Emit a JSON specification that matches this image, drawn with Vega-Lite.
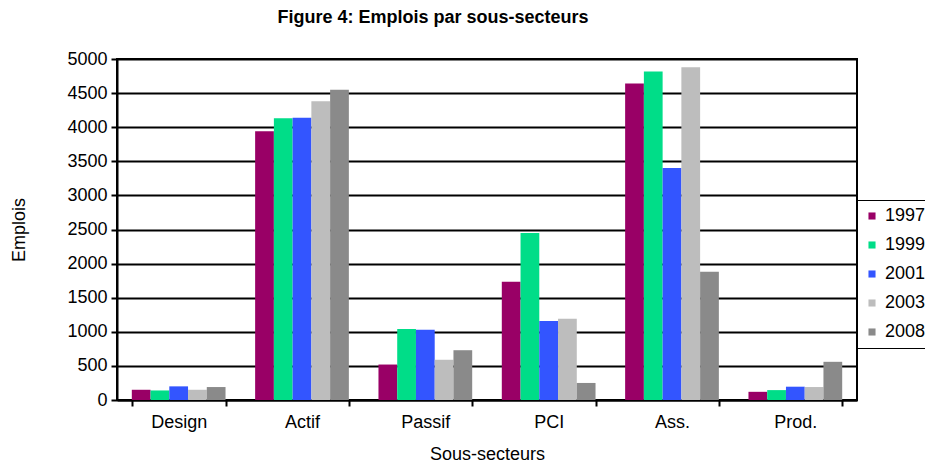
{
  "$schema": "https://vega.github.io/schema/vega-lite/v6.json",
  "autosize": {"type": "none"},
  "padding": {"left": 117, "top": 59, "right": 68, "bottom": 67},
  "width": 740,
  "height": 341,
  "title": {"text": "Figure 4: Emplois par sous-secteurs", "font": "Liberation Sans", "fontSize": 18, "fontWeight": "bold", "color": "#000", "anchor": "middle", "dx": -54, "offset": 23},
  "config": {
    "view": {"stroke": "#000", "strokeWidth": 2},
    "font": "Liberation Sans",
    "axis": {"labelFont": "Liberation Sans", "titleFont": "Liberation Sans", "labelColor": "#000", "titleColor": "#000", "labelFontSize": 18, "titleFontSize": 18, "titleFontWeight": "normal", "domainColor": "#000", "tickColor": "#000", "domainWidth": 2, "tickWidth": 2}
  },
  "data": {"values": [
    {"secteur": "Design", "annee": "1997", "emplois": 150},
    {"secteur": "Design", "annee": "1999", "emplois": 140},
    {"secteur": "Design", "annee": "2001", "emplois": 200},
    {"secteur": "Design", "annee": "2003", "emplois": 150},
    {"secteur": "Design", "annee": "2008", "emplois": 190},
    {"secteur": "Actif", "annee": "1997", "emplois": 3940},
    {"secteur": "Actif", "annee": "1999", "emplois": 4130},
    {"secteur": "Actif", "annee": "2001", "emplois": 4140},
    {"secteur": "Actif", "annee": "2003", "emplois": 4380},
    {"secteur": "Actif", "annee": "2008", "emplois": 4550},
    {"secteur": "Passif", "annee": "1997", "emplois": 520},
    {"secteur": "Passif", "annee": "1999", "emplois": 1040},
    {"secteur": "Passif", "annee": "2001", "emplois": 1030},
    {"secteur": "Passif", "annee": "2003", "emplois": 590},
    {"secteur": "Passif", "annee": "2008", "emplois": 730},
    {"secteur": "PCI", "annee": "1997", "emplois": 1735},
    {"secteur": "PCI", "annee": "1999", "emplois": 2450},
    {"secteur": "PCI", "annee": "2001", "emplois": 1160},
    {"secteur": "PCI", "annee": "2003", "emplois": 1190},
    {"secteur": "PCI", "annee": "2008", "emplois": 250},
    {"secteur": "Ass.", "annee": "1997", "emplois": 4640},
    {"secteur": "Ass.", "annee": "1999", "emplois": 4815},
    {"secteur": "Ass.", "annee": "2001", "emplois": 3400},
    {"secteur": "Ass.", "annee": "2003", "emplois": 4880},
    {"secteur": "Ass.", "annee": "2008", "emplois": 1880},
    {"secteur": "Prod.", "annee": "1997", "emplois": 120},
    {"secteur": "Prod.", "annee": "1999", "emplois": 145},
    {"secteur": "Prod.", "annee": "2001", "emplois": 195},
    {"secteur": "Prod.", "annee": "2003", "emplois": 190},
    {"secteur": "Prod.", "annee": "2008", "emplois": 560}
  ]},
  "mark": {"type": "bar"},
  "encoding": {
    "x": {"field": "secteur", "type": "nominal", "sort": ["Design", "Actif", "Passif", "PCI", "Ass.", "Prod."],
      "scale": {"paddingInner": 0.24, "paddingOuter": 0.12},
      "axis": {"title": "Sous-secteurs", "labelAngle": 0, "labelPadding": 7, "titlePadding": 14, "tickBand": "extent", "tickSize": 6, "grid": false}},
    "xOffset": {"field": "annee", "type": "nominal"},
    "y": {"field": "emplois", "type": "quantitative", "scale": {"domain": [0, 5000], "nice": false},
      "axis": {"title": "Emplois", "format": "d", "values": [0, 500, 1000, 1500, 2000, 2500, 3000, 3500, 4000, 4500, 5000], "grid": true, "gridColor": "#000", "gridWidth": 2, "gridOpacity": 1, "tickSize": 6, "labelPadding": 4, "titlePadding": 38}},
    "color": {"field": "annee", "type": "nominal", "title": null,
      "scale": {"domain": ["1997", "1999", "2001", "2003", "2008"], "range": ["#990066", "#00dd88", "#3355ff", "#bdbdbd", "#8a8a8a"]},
      "legend": {"orient": "none", "legendX": 739, "legendY": 141, "symbolType": "square", "symbolSize": 50, "labelFontSize": 18, "labelColor": "#000", "labelFont": "Liberation Sans", "rowPadding": 11, "padding": 7, "labelOffset": 4, "strokeColor": "#000", "symbolStrokeWidth": 0}
    }
  }
}
